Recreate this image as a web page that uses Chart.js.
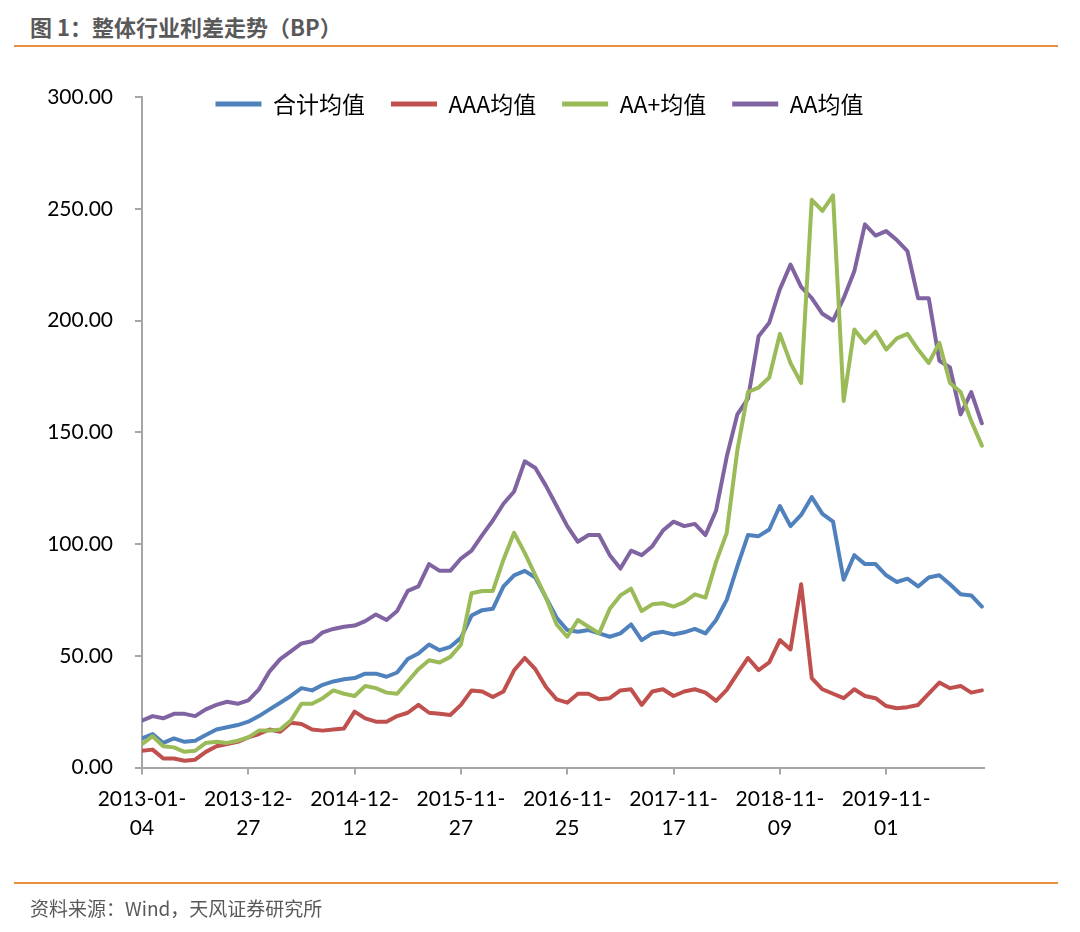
<!DOCTYPE html>
<html>
<head>
<meta charset="utf-8">
<script src="https://cdn.jsdelivr.net/npm/chart.js@4.4.0/dist/chart.umd.min.js"></script>
<style>
  html, body { margin: 0; padding: 0; background: #fff; width: 1080px; height: 932px; overflow: hidden; }
  #c { position: absolute; left: 0; top: 0; }
  #title { position: absolute; left: 30px; top: 10px; font: bold 22px "Noto Sans CJK SC", sans-serif; color: #595959; line-height: 32px; white-space: nowrap; }
  .rule { position: absolute; left: 14px; width: 1044px; height: 2px; background: #e8903c; }
  #footer { position: absolute; left: 30px; top: 894px; font: 19px "Noto Sans CJK SC", sans-serif; color: #595959; line-height: 28px; white-space: nowrap; }
</style>
</head>
<body>
<div id="title">图 1：整体行业利差走势（BP）</div>
<div class="rule" style="top:45px"></div>
<canvas id="c" width="1080" height="932"></canvas>
<div class="rule" style="top:882px"></div>
<div id="footer">资料来源：Wind，天风证券研究所</div>
<script>
// ---- data (weekly series, one value read every 5 weeks starting 2013-01-04) ----
const seriesNames = ["合计均值", "AAA均值", "AA+均值", "AA均值"];
const tickLabels = ["2013-01-04", "2013-12-27", "2014-12-12", "2015-11-27", "2016-11-25", "2017-11-17", "2018-11-09", "2019-11-01"];
const weeksPerTick = 50;
const weeksPerPoint = 5;
const lastWeek = 396;

const totalAvg = [13,15,11,13,11.5,12,14.5,17,18,19,
  20.5,23,26,29,32,35.5,34.5,37,38.5,39.5,
  40,42,42,40.6,42.5,48.5,51,55,52.5,54,
  58,68,70.4,71,81,86,88,85,76,67,
  61.5,60.7,61.5,60,58.5,60,64,57,60,60.7,
  59.5,60.5,62,60,66,75,90,104,103.5,106.5,
  117,108,113,121,113.5,110,84,95,91,91,
  86,83,84.5,81,85,86,82,77.5,77,72];

const aaaAvg = [7.5,8,4,4,3,3.5,7,9.5,10.5,11.5,
  13.5,15,17,16,20,19.5,17,16.5,17,17.5,
  25,22,20.5,20.5,23,24.5,28,24.5,24,23.5,
  28,34.5,34,31.5,34,43.5,49,44,36,30.5,
  29,33,33,30.5,31,34.5,35,28,34,35,
  32,34,35,33.5,29.8,34.7,42,49,43.6,47,
  57,52.8,82,40,35,33,31,35,32,31,
  27.5,26.5,27,28,33,38,35.5,36.5,33.5,34.5];

const aaPlusAvg = [10.5,14,9.5,9,7,7.5,11,11.5,11,12,
  13.5,16.5,16.5,17,21,28.5,28.5,31,34.5,33,
  32,36.5,35.5,33.5,33,38.5,44,48,47,49.5,
  55,78,79,79,93,105,96,86,76,64,
  58.5,66,63,60,71,77,80,70,73,73.5,
  72,74,77.5,76,92,105,142,168,170,174.5,
  194,181,172,254,249,256,164,196,190,195,
  187,192,194,187,181,190,172,168,155,144];

const aaAvg = [21,23,22,24,24,23,26,28,29.4,28.5,
  30,35,43,48.5,52,55.5,56.5,60.5,62,63,
  63.5,65.5,68.5,66,70,79,81,91,88,88,
  93.5,97,104,110.5,118,123.5,137,134,126,117,
  108,101,104,104,95,89,97,95,99,106,
  110,108,109,104,115,139,158,165,193,199,
  214,225,215,210,203,200,210,222,243,238,
  240,236,231,210,210,182,179,158,168,154];

// ---- styling ----
const colors = ["#4f81bd", "#c0504d", "#9bbb59", "#8064a2"];
const drawOrder = [1, 2, 0, 3];
const legendCenterX = 539.5;
const legendCenterY = 104;
const legendFontSize = 23;
const legendPad = 26;
const axisColor = "#a6a6a6";

function toPoints(values) {
  return values.map((v, i) => ({ x: i * weeksPerPoint, y: v }));
}

const allSeries = [totalAvg, aaaAvg, aaPlusAvg, aaAvg];
const datasets = allSeries.map((vals, i) => ({
  label: seriesNames[i],
  data: toPoints(vals),
  borderColor: colors[i],
  backgroundColor: colors[i],
  borderWidth: 4,
  pointRadius: 0,
  tension: 0,
  fill: false,
  borderJoinStyle: "round",
  borderCapStyle: "round",
  order: drawOrder[i]
}));

const legendPlacer = {
  id: "legendPlacer",
  beforeUpdate(chart) {
    const lg = chart.legend;
    if (lg && !lg._patched) {
      const f = lg.fit;
      lg.fit = function () { f.call(this); this.height = 0; };
      lg._patched = true;
    }
  },
  afterLayout(chart) {
    const lg = chart.legend;
    if (!lg) return;
    const targetTop = legendCenterY - legendPad - legendFontSize / 2;
    lg.top = targetTop;
    lg.bottom = targetTop + 2 * legendPad + legendFontSize;
    lg.height = lg.bottom - lg.top;
    const dx = legendCenterX - (lg.left + lg.right) / 2;
    lg.left += dx; lg.right += dx;
  }
};

new Chart(document.getElementById("c"), {
  type: "line",
  data: { datasets },
  plugins: [legendPlacer],
  options: {
    responsive: false,
    animation: false,
    devicePixelRatio: 1,
    layout: { padding: { left: 0, top: 97, right: 96, bottom: 0 } },
    plugins: {
      tooltip: { enabled: false },
      legend: {
        position: "top",
        align: "center",
        labels: {
          boxWidth: 46,
          boxHeight: 5,
          padding: legendPad,
          color: "#000",
          font: { family: '"Noto Sans CJK SC", sans-serif', size: legendFontSize },
          sort: (a, b) => a.datasetIndex - b.datasetIndex,
          generateLabels: (chart) => Chart.defaults.plugins.legend.labels.generateLabels(chart)
            .map(l => Object.assign(l, { lineWidth: 0, fillStyle: colors[l.datasetIndex] }))
        }
      }
    },
    scales: {
      x: {
        type: "linear",
        min: 0,
        max: lastWeek,
        border: { display: true, color: axisColor, width: 2 },
        grid: { drawOnChartArea: false, drawTicks: true, tickLength: 7, color: axisColor, lineWidth: 2 },
        afterBuildTicks: (axis) => { axis.ticks = tickLabels.map((_, i) => ({ value: i * weeksPerTick })); },
        ticks: {
          autoSkip: false,
          maxRotation: 0,
          minRotation: 0,
          includeBounds: false,
          padding: 10,
          color: "#000",
          font: { family: "Lato, sans-serif", size: 21, lineHeight: 1.38 },
          callback: (value) => {
            const s = tickLabels[Math.round(value / weeksPerTick)];
            return s ? [s.slice(0, 8), s.slice(8)] : "";
          }
        },
        afterFit: (axis) => { axis.height = 932 - 767.5; }
      },
      y: {
        min: 0,
        max: 300,
        border: { display: true, color: axisColor, width: 2 },
        grid: { drawOnChartArea: false, drawTicks: true, tickLength: 7, color: axisColor, lineWidth: 2 },
        ticks: {
          stepSize: 50,
          padding: 22,
          color: "#000",
          font: { family: "Lato, sans-serif", size: 21 },
          callback: (v) => Number(v).toFixed(2)
        },
        afterFit: (axis) => { axis.width = 142; }
      }
    }
  }
});
</script>
</body>
</html>
